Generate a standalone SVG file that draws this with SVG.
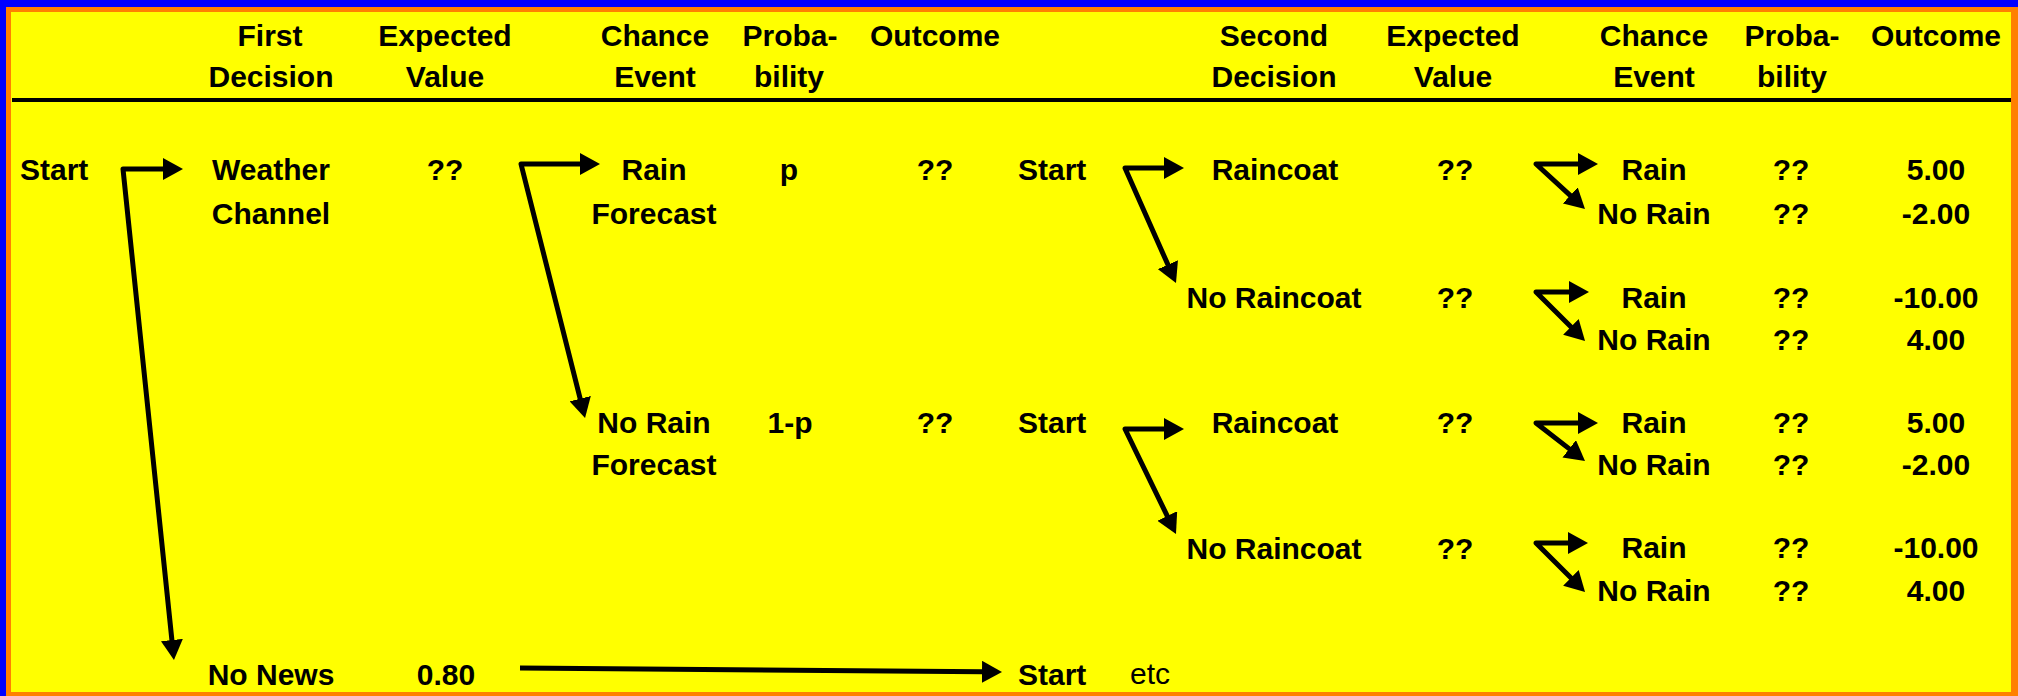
<svg xmlns="http://www.w3.org/2000/svg" width="2018" height="696" viewBox="0 0 2018 696">
<style>
text{font-family:"Liberation Sans",Arial,sans-serif;font-size:30px;font-weight:bold;fill:#000}
.c{text-anchor:middle}
.reg{font-weight:normal}
.conn path{fill:none;stroke:#000;stroke-width:5;stroke-linejoin:round;marker-end:url(#ah)}
.conn path.fork{marker-start:url(#ah)}
</style>
<defs>
<marker id="ah" markerUnits="userSpaceOnUse" viewBox="0 0 20 22" refX="1" refY="11" markerWidth="20" markerHeight="22" orient="auto-start-reverse"><path d="M0,0 L20,11 L0,22 z" fill="#000"/></marker>
</defs>
<rect x="0" y="0" width="2018" height="696" fill="#0000FF"/>
<rect x="6" y="7" width="2012" height="689" fill="#FF8000"/>
<rect x="11" y="12" width="2000" height="680" fill="#FFFF00"/>
<g id="header">
<text class="c" x="270" y="46">First</text><text class="c" x="271" y="87">Decision</text>
<text class="c" x="445" y="46">Expected</text><text class="c" x="445" y="87">Value</text>
<text class="c" x="655" y="46">Chance</text><text class="c" x="655" y="87">Event</text>
<text class="c" x="790" y="46">Proba-</text><text class="c" x="789" y="87">bility</text>
<text class="c" x="935" y="46">Outcome</text>
<text class="c" x="1274" y="46">Second</text><text class="c" x="1274" y="87">Decision</text>
<text class="c" x="1453" y="46">Expected</text><text class="c" x="1453" y="87">Value</text>
<text class="c" x="1654" y="46">Chance</text><text class="c" x="1654" y="87">Event</text>
<text class="c" x="1792" y="46">Proba-</text><text class="c" x="1792" y="87">bility</text>
<text class="c" x="1936" y="46">Outcome</text>
<rect x="12" y="98" width="1999" height="4" fill="#000"/>
</g>
<g id="start1"><text x="20" y="180">Start</text></g>
<g id="weather"><text class="c" x="271" y="180">Weather</text><text class="c" x="271" y="224">Channel</text></g>
<g id="ev-weather"><text class="c" x="445" y="180">??</text></g>
<g id="rain-forecast"><text class="c" x="654" y="180">Rain</text><text class="c" x="654" y="224">Forecast</text><text class="c" x="789" y="180">p</text><text class="c" x="935" y="180">??</text></g>
<g id="start-a"><text x="1018" y="180">Start</text></g>
<g id="raincoat-a"><text class="c" x="1275" y="180">Raincoat</text><text class="c" x="1455" y="180">??</text></g>
<g id="rc-a-rain"><text class="c" x="1654" y="180">Rain</text><text class="c" x="1791" y="180">??</text><text class="c" x="1936" y="180">5.00</text></g>
<g id="rc-a-norain"><text class="c" x="1654" y="224">No Rain</text><text class="c" x="1791" y="224">??</text><text class="c" x="1936" y="224">-2.00</text></g>
<g id="noraincoat-a"><text class="c" x="1274" y="308">No Raincoat</text><text class="c" x="1455" y="308">??</text></g>
<g id="nrc-a-rain"><text class="c" x="1654" y="308">Rain</text><text class="c" x="1791" y="308">??</text><text class="c" x="1936" y="308">-10.00</text></g>
<g id="nrc-a-norain"><text class="c" x="1654" y="350">No Rain</text><text class="c" x="1791" y="350">??</text><text class="c" x="1936" y="350">4.00</text></g>
<g id="norain-forecast"><text class="c" x="654" y="433">No Rain</text><text class="c" x="654" y="475">Forecast</text><text class="c" x="790" y="433">1-p</text><text class="c" x="935" y="433">??</text></g>
<g id="start-b"><text x="1018" y="433">Start</text></g>
<g id="raincoat-b"><text class="c" x="1275" y="433">Raincoat</text><text class="c" x="1455" y="433">??</text></g>
<g id="rc-b-rain"><text class="c" x="1654" y="433">Rain</text><text class="c" x="1791" y="433">??</text><text class="c" x="1936" y="433">5.00</text></g>
<g id="rc-b-norain"><text class="c" x="1654" y="475">No Rain</text><text class="c" x="1791" y="475">??</text><text class="c" x="1936" y="475">-2.00</text></g>
<g id="noraincoat-b"><text class="c" x="1274" y="559">No Raincoat</text><text class="c" x="1455" y="559">??</text></g>
<g id="nrc-b-rain"><text class="c" x="1654" y="558">Rain</text><text class="c" x="1791" y="558">??</text><text class="c" x="1936" y="558">-10.00</text></g>
<g id="nrc-b-norain"><text class="c" x="1654" y="601">No Rain</text><text class="c" x="1791" y="601">??</text><text class="c" x="1936" y="601">4.00</text></g>
<g id="no-news"><text class="c" x="271" y="685">No News</text><text class="c" x="446" y="685">0.80</text></g>
<g id="start-c"><text x="1018" y="685">Start</text><text class="reg" x="1130" y="684">etc</text></g>
<g id="connectors" class="conn">
<path class="fork" d="M164,169 L123,169 L172,641"/>
<path class="fork" d="M581,164 L521,164 L580.4,399.6"/>
<path class="fork" d="M1165,168 L1125,168 L1168.3,265.6"/>
<path class="fork" d="M1165,429 L1125,429 L1167.7,516.9"/>
<path class="fork" d="M1579,164 L1536,164 L1571,196.1"/>
<path class="fork" d="M1570,292 L1536,292 L1571.6,327.6"/>
<path class="fork" d="M1579,423 L1536,423 L1570,449.4"/>
<path class="fork" d="M1569,543 L1536,543 L1571.6,578.6"/>
<path d="M520,668 L983,671.8"/>
</g>
</svg>
